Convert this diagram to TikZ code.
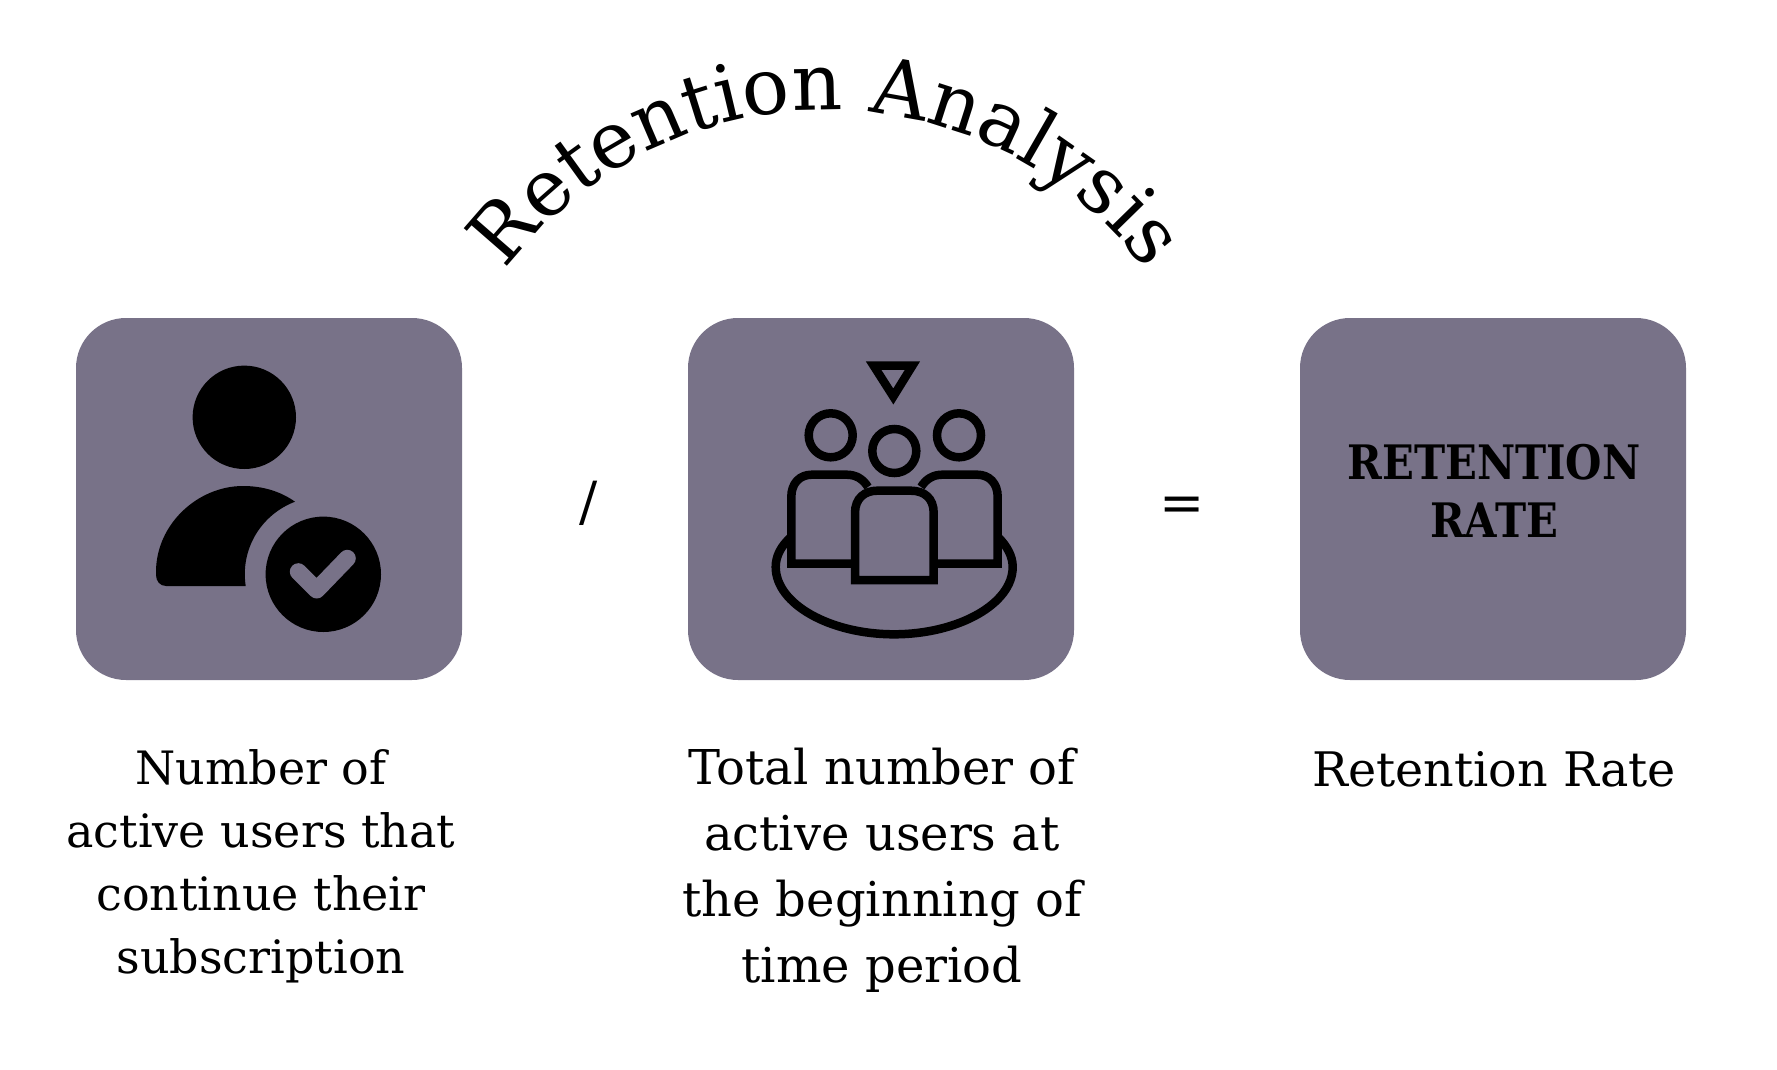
\documentclass[tikz,border=0pt]{standalone}
\usepackage{fontspec}
\setmainfont{DejaVu Serif}
\newfontfamily\slabfont[FakeStretch=0.88]{DejaVu Serif}
\usetikzlibrary{positioning,decorations.text}
\definecolor{boxgray}{HTML}{787288}
\newcommand{\titlefont}{\fontsize{78.5}{78.5}\selectfont}

\begin{document}
\begin{tikzpicture}[x=1pt,y=-1pt,
  cardbox/.style={draw=none,fill=boxgray,rounded corners=50,minimum width=386,minimum height=362,inner sep=0},
  captiontext/.style={align=center,inner sep=0,font=\fontsize{46}{63}\selectfont},
  mathsign/.style={inner sep=0,font=\fontsize{54}{54}\selectfont},
  iconline/.style={draw=black,line width=8.5,fill=none}]
\useasboundingbox (0,0) rectangle (1777,1070);
       \node [cardbox]  (users) at (269,499) {};
       \node [cardbox]  (total) at (881,499) {};
       \node [cardbox]  (rate) at (1493,499) {};
       \node [align=center,inner sep=0,font=\slabfont\bfseries\fontsize{47.5}{58}\selectfont]  (ratelabel) at (1494,491) {RETENTION\\RATE};
       \node [mathsign]  (slash) at (589,503) {/};
       \node [mathsign]  (equal) at (1182,509) {=};
       \node [captiontext]  (userstext) at (261,866) {Number of\\active users that\\continue their\\subscription};
       \node [captiontext,font=\fontsize{48}{66}\selectfont]  (totaltext) at (882,870) {Total number of\\active users at\\the beginning of\\time period};
       \node [captiontext,font=\fontsize{47.6}{63}\selectfont]  (ratetext) at (1494,769) {Retention Rate};
% title
\path [decorate,decoration={text along path,text align=center,text={|\titlefont|Retention Analysis}}]
  (498.3,280.6) .. controls (573.2,173.7) and (695.5,110) .. (826,110) .. controls (956.5,110) and (1078.8,173.7) .. (1153.7,280.6);
% user icon
\fill (244.3,417.3) circle (51.7);
\fill (156,572) .. controls (156,524) and (198,486) .. (243,486) .. controls (262,486) and (280,491) .. (295,501.7) .. controls (260.6,514.9) and (240.2,549.4) .. (245.7,586) -- (166,586) .. controls (160,586) and (156,581) .. (156,575) -- cycle;
\fill (323.3,574.3) circle (57.7);
\draw [boxgray,line width=17,line cap=round,line join=round] (298.3,571.7) -- (316.7,590) -- (347.3,558.3);
% group icon
\draw [iconline] (873.5,365.5) -- (912.5,365.5) -- (893.3,396.5) -- cycle;
\draw [iconline] (830.7,435.3) circle (22);
\draw [iconline] (894.3,451) circle (22);
\draw [iconline] (959,435.3) circle (22);
\draw [iconline] (851.7,563.7) -- (791.3,563.7) -- (791.3,497) .. controls (791.3,483) and (800,474.7) .. (811.7,474.7) -- (846.7,474.7) .. controls (856,474.7) and (863,479) .. (868,487);
\draw [iconline] (937.3,563.7) -- (997.7,563.7) -- (997.7,497) .. controls (997.7,483) and (989,474.7) .. (977.3,474.7) -- (942.3,474.7) .. controls (933,474.7) and (926,479) .. (921,487);
\draw [iconline] (855,580) -- (855,513) .. controls (855,498) and (865,490.7) .. (877,490.7) -- (911,490.7) .. controls (924,490.7) and (933.7,498) .. (933.7,513) -- (933.7,580) -- cycle;
\draw [iconline] (791,537) .. controls (781,546) and (775.7,556) .. (775.7,567) .. controls (775.7,604) and (830,634.3) .. (894,634.3) .. controls (958,634.3) and (1012.7,604) .. (1012.7,567) .. controls (1012.7,556) and (1007,546) .. (998,537);
\end{tikzpicture}
\end{document}
